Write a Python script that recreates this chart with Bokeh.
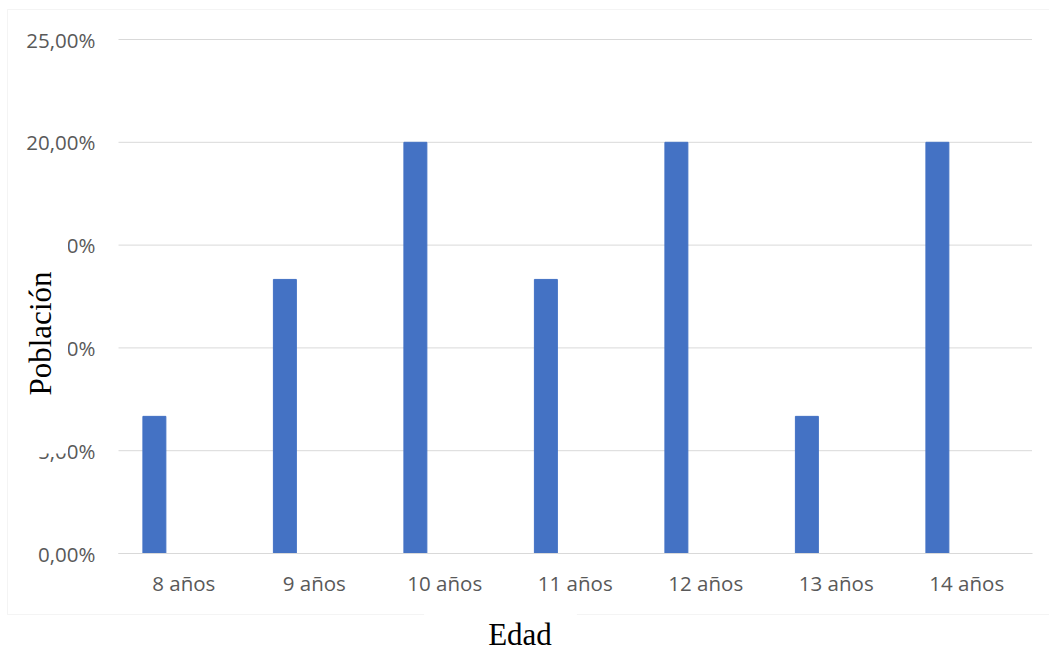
import math

from bokeh.embed import file_html
from bokeh.models import (BoxAnnotation, ColumnDataSource, FixedTicker, Label,
                          Range1d)
from bokeh.plotting import figure
from bokeh.resources import INLINE
from bokeh.transform import dodge

# Distribución de la población por edad (porcentaje del total)
edades = ["8 años", "9 años", "10 años", "11 años", "12 años", "13 años", "14 años"]
poblacion = [6.67, 13.33, 20.00, 13.33, 20.00, 6.67, 20.00]
y_ticks = [0, 5, 10, 15, 20, 25]
y_tick_labels = ["0,00%", "5,00%", "10,00%", "15,00%", "20,00%", "25,00%"]

GRID = "#d9d9d9"
TICK_TEXT = "#595959"
BAR = "#4472C4"

# Geometría del lienzo (píxeles)
W, H = 1049, 648
AREA_LEFT, AREA_RIGHT = 118, 1031.5   # zona de categorías
ZERO_Y, TOP_Y = 553, 39               # posiciones de 0 % y del máximo del eje
Y_MAX = y_ticks[-1]

n = len(edades)
px_cat = (AREA_RIGHT - AREA_LEFT) / n
px_pct = (ZERO_Y - TOP_Y) / Y_MAX

x_range = Range1d(-AREA_LEFT / px_cat, (W - AREA_LEFT) / px_cat)
y_range = Range1d(-(H - ZERO_Y) / px_pct, ZERO_Y / px_pct)

centros = [i + 0.5 for i in range(n)]
source = ColumnDataSource(data=dict(x=centros, pob=poblacion))

p = figure(
    width=W, height=H, x_range=x_range, y_range=y_range,
    output_backend="svg", toolbar_location=None,
    min_border=0, min_border_left=0, min_border_right=0,
    min_border_top=0, min_border_bottom=0,
)
p.outline_line_color = None
p.background_fill_color = "white"
p.border_fill_color = "white"
p.grid.visible = False

# Líneas de división horizontales, limitadas a la zona de categorías
p.segment(x0=0, x1=n, y0=y_ticks, y1=y_ticks, line_color=GRID, line_width=1)

p.vbar(x=dodge("x", -0.225), top="pob", width=0.176,
       source=source, fill_color=BAR, line_color=BAR)

# Eje Y
yax = p.yaxis[0]
yax.fixed_location = 0
yax.ticker = FixedTicker(ticks=y_ticks)
yax.major_label_overrides = dict(zip(y_ticks, y_tick_labels))
yax.axis_line_color = None
yax.major_tick_line_color = None
yax.minor_tick_line_color = None
yax.major_tick_out = 0
yax.major_tick_in = 0
yax.major_label_standoff = 23
yax.major_label_text_font = "Open Sans"
yax.major_label_text_font_size = "20.5px"
yax.major_label_text_color = TICK_TEXT

# Eje X (categorías)
xax = p.xaxis[0]
xax.fixed_location = 0
xax.bounds = (0, n)
xax.ticker = FixedTicker(ticks=centros)
xax.major_label_overrides = dict(zip(centros, edades))
xax.axis_line_color = GRID
xax.axis_line_width = 1
xax.major_tick_line_color = None
xax.minor_tick_line_color = None
xax.major_tick_out = 0
xax.major_tick_in = 0
xax.major_label_standoff = 15
xax.major_label_text_font = "Open Sans"
xax.major_label_text_font_size = "20.5px"
xax.major_label_text_color = TICK_TEXT

# Borde del área del gráfico
p.add_layout(BoxAnnotation(
    left=7, right=W + 40, top=H - 9, bottom=H - 614,
    left_units="screen", right_units="screen", top_units="screen", bottom_units="screen",
    fill_color=None, line_color=GRID, line_width=1,
))

# Títulos de los ejes (con fondo blanco, superpuestos al borde y a las etiquetas)
p.add_layout(Label(
    x=42, y=H - 345.5, x_units="screen", y_units="screen",
    text="Población", angle=math.pi / 2,
    text_font="Liberation Serif", text_font_size="31px", text_color="black",
    text_align="center", text_baseline="middle",
    background_fill_color="white",
    padding=dict(left=58, right=33, top=6, bottom=10),
))
p.add_layout(Label(
    x=500, y=H - 630, x_units="screen", y_units="screen",
    text="Edad",
    text_font="Liberation Serif", text_font_size="31px", text_color="black",
    text_align="center", text_baseline="middle",
    background_fill_color="white",
    padding=dict(left=64, right=25, top=8, bottom=0),
))

open("out.html", "w").write(file_html(p, INLINE))
